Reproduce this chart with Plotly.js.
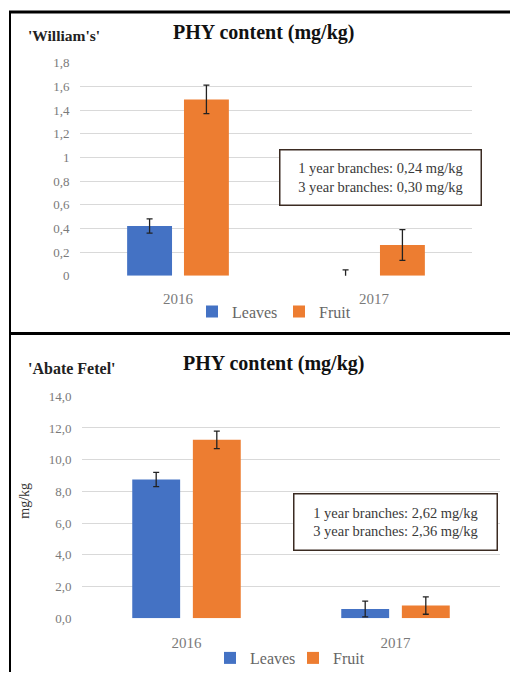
<!DOCTYPE html>
<html>
<head>
<meta charset="utf-8">
<script src="https://cdn.plot.ly/plotly-3.0.1.min.js"></script>
<style>html,body{margin:0;padding:0;background:#fff;}#chart{width:510px;height:675px;}</style>
</head>
<body>
<div id="chart"></div>
<script>
// ---- data ----
const categories = ["2016", "2017"];
const seriesNames = ["Leaves", "Fruit"];
// 'William's'
const williamsLeaves = [0.42, 0.0];
const williamsLeavesErr = [0.06, 0.05];
const williamsFruit = [1.49, 0.26];
const williamsFruitErr = [0.12, 0.13];
const williamsTickVals = [0, 0.2, 0.4, 0.6, 0.8, 1, 1.2, 1.4, 1.6, 1.8];
const williamsTickText = ["0", "0,2", "0,4", "0,6", "0,8", "1", "1,2", "1,4", "1,6", "1,8"];
const williamsNote = ["1 year branches: 0,24 mg/kg", "3 year branches: 0,30 mg/kg"];
// 'Abate Fetel'
const abateLeaves = [8.75, 0.58];
const abateLeavesErr = [0.45, 0.5];
const abateFruit = [11.25, 0.8];
const abateFruitErr = [0.55, 0.55];
const abateTickVals = [0, 2, 4, 6, 8, 10, 12, 14];
const abateTickText = ["0,0", "2,0", "4,0", "6,0", "8,0", "10,0", "12,0", "14,0"];
const abateNote = ["1 year branches: 2,62 mg/kg", "3 year branches: 2,36 mg/kg"];

const titleText = "PHY content (mg/kg)";
const cultivarTop = "'William's'";
const cultivarBottom = "'Abate Fetel'";
const yTitleBottom = "mg/kg";

// ---- style ----
const W = 510, H = 675;
const px = v => v / W;
const py = v => 1 - v / H;
const BLUE = "#4472C4", ORANGE = "#ED7D31";
const SERIF = "Liberation Serif";
const errStyle = {type: "data", visible: true, color: "#222", thickness: 1.3, width: 3};

function bar(x, y, err, name, color, xa, ya, legend) {
  return {
    type: "bar", x: x, y: y, name: name,
    marker: {color: color},
    error_y: Object.assign({array: err}, errStyle),
    xaxis: xa, yaxis: ya, legend: legend,
    hoverinfo: "x+y+name"
  };
}

const data = [
  bar(categories, williamsLeaves, williamsLeavesErr, seriesNames[0], BLUE, "x", "y", "legend"),
  bar(categories, williamsFruit, williamsFruitErr, seriesNames[1], ORANGE, "x", "y", "legend"),
  bar(categories, abateLeaves, abateLeavesErr, seriesNames[0], BLUE, "x2", "y2", "legend2"),
  bar(categories, abateFruit, abateFruitErr, seriesNames[1], ORANGE, "x2", "y2", "legend2")
];

const yTickFont = {family: SERIF, size: 13, color: "#7a7a7a"};
const xTickFont = {family: SERIF, size: 15, color: "#7a7a7a"};
const gridColor = "#d9d9d9";

const xBase = {
  type: "category", showgrid: false, zeroline: false, showline: false,
  ticks: "outside", tickcolor: "rgba(0,0,0,0)",
  tickfont: xTickFont, fixedrange: true
};
const yBase = {
  showgrid: true, gridcolor: gridColor, gridwidth: 1, zeroline: false, showline: false,
  ticks: "outside", ticklen: 7, tickcolor: "rgba(0,0,0,0)",
  tickfont: yTickFont, tickmode: "array", fixedrange: true
};

const legendFont = {family: SERIF, size: 16, color: "#666"};

const layout = {
  width: W, height: H,
  margin: {l: 0, r: 0, t: 0, b: 0},
  paper_bgcolor: "#fff", plot_bgcolor: "#fff",
  barmode: "group", bargap: 0.42, bargroupgap: 0.21,
  showlegend: true,
  xaxis: Object.assign({}, xBase, {domain: [px(80), px(472)], anchor: "y", range: [-0.5, 1.5], ticklen: 9}),
  yaxis: Object.assign({}, yBase, {domain: [py(277), py(63)], anchor: "x", range: [0, 1.8],
    tickvals: williamsTickVals, ticktext: williamsTickText}),
  xaxis2: Object.assign({}, xBase, {domain: [px(82), px(500)], anchor: "y2", range: [-0.5, 1.5], ticklen: 11}),
  yaxis2: Object.assign({}, yBase, {domain: [py(621), py(398)], anchor: "x2", range: [0, 14],
    tickvals: abateTickVals, ticktext: abateTickText}),
  legend: {orientation: "h", x: px(192), xanchor: "left", y: py(313), yanchor: "middle",
    font: legendFont, itemwidth: 30, entrywidth: 42, tracegroupgap: 0, bgcolor: "rgba(0,0,0,0)"},
  legend2: {orientation: "h", x: px(210), xanchor: "left", y: py(661), yanchor: "middle",
    font: legendFont, itemwidth: 30, entrywidth: 38, tracegroupgap: 0, bgcolor: "rgba(0,0,0,0)"},
  annotations: [
    {text: "<b>" + titleText + "</b>", xref: "paper", yref: "paper", x: px(263), y: py(33),
      xanchor: "center", yanchor: "middle", showarrow: false, font: {family: SERIF, size: 20, color: "#111"}},
    {text: "<b>" + titleText + "</b>", xref: "paper", yref: "paper", x: px(273), y: py(365),
      xanchor: "center", yanchor: "middle", showarrow: false, font: {family: SERIF, size: 20, color: "#111"}},
    {text: "<b>" + cultivarTop + "</b>", xref: "paper", yref: "paper", x: px(64), y: py(36),
      xanchor: "center", yanchor: "middle", showarrow: false, font: {family: SERIF, size: 15.5, color: "#222"}},
    {text: "<b>" + cultivarBottom + "</b>", xref: "paper", yref: "paper", x: px(72), y: py(370),
      xanchor: "center", yanchor: "middle", showarrow: false, font: {family: SERIF, size: 16, color: "#222"}},
    {text: yTitleBottom, xref: "paper", yref: "paper", x: px(25), y: py(503), textangle: -90,
      xanchor: "center", yanchor: "middle", showarrow: false, font: {family: SERIF, size: 14, color: "#333"}},
    {text: williamsNote.join("<br>"), xref: "paper", yref: "paper", x: px(380.5), y: py(178),
      xanchor: "center", yanchor: "middle", showarrow: false, width: 198, height: 52, align: "center",
      bordercolor: "#3b2b22", borderwidth: 1.5, borderpad: 1, bgcolor: "#fff",
      font: {family: SERIF, size: 14.5, color: "#3a3a3a"}},
    {text: abateNote.join("<br>"), xref: "paper", yref: "paper", x: px(395.5), y: py(524.5),
      xanchor: "center", yanchor: "middle", showarrow: false, width: 200, height: 53, align: "center",
      bordercolor: "#3b2b22", borderwidth: 1.5, borderpad: 1, bgcolor: "#fff",
      font: {family: SERIF, size: 14.5, color: "#3a3a3a"}}
  ],
  shapes: [
    {type: "line", xref: "paper", yref: "paper", x0: px(9), x1: 1, y0: py(12), y1: py(12),
      line: {color: "#000", width: 3}},
    {type: "line", xref: "paper", yref: "paper", x0: px(10), x1: px(10), y0: py(11), y1: 0,
      line: {color: "#000", width: 2}},
    {type: "line", xref: "paper", yref: "paper", x0: px(9), x1: 1, y0: py(335), y1: py(335),
      line: {color: "#000", width: 3}}
  ]
};

Plotly.newPlot("chart", data, layout, {displayModeBar: false, staticPlot: true});
</script>
</body>
</html>
